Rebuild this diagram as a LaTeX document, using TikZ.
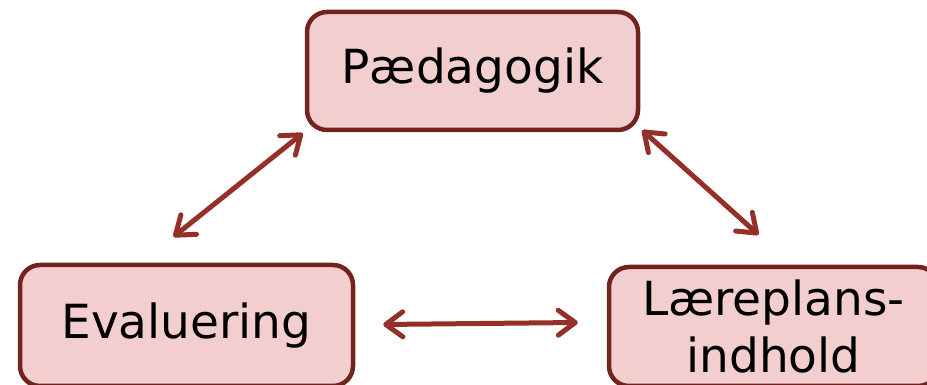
\documentclass[tikz,border=0pt]{standalone}
\usepackage{fontspec}
\setmainfont{DejaVu Sans}
\usetikzlibrary{arrows.meta}
\definecolor{boxline}{HTML}{73231E}
\definecolor{boxfill}{HTML}{F2CFCE}
\definecolor{arrowred}{HTML}{943028}
\begin{document}
\begin{tikzpicture}[x=1pt, y=1pt, >={Straight Barb[length=17pt,width=25pt,round]},
    font=\fontsize{47}{57}\selectfont,
    topic/.style={draw=boxline, fill=boxfill, line width=4.5pt, rounded corners=20pt, align=center},
    link/.style={<->, draw=arrowred, line width=5pt, line cap=round}]
            \useasboundingbox (0,0) rectangle (927,385);
            \node[topic, minimum width=331, minimum height=118] (P) at (472.5,314) {Pædagogik};
            \node[topic, minimum width=333, minimum height=121] (E) at (186.5,59.5) {Evaluering};
            \node[topic, minimum width=329, minimum height=119] (L) at (773.5,58.5) {Læreplans-\\indhold};
            \coordinate (pe) at ([shift={(-2,-1)}]P.south west);
            \coordinate (ep) at ([shift={(-13,26)}]E.north);
            \coordinate (pl) at ([shift={(2,2)}]P.south east);
            \coordinate (lp) at ([shift={(-15,30)}]L.north);
            \coordinate (el) at ([shift={(28,1)}]E.east);
            \coordinate (le) at ([shift={(-29,4)}]L.west);
            \draw[link] (pe) -- (ep);
            \draw[link] (pl) -- (lp);
            \draw[link] (el) -- (le);
    \end{tikzpicture}
\end{document}
